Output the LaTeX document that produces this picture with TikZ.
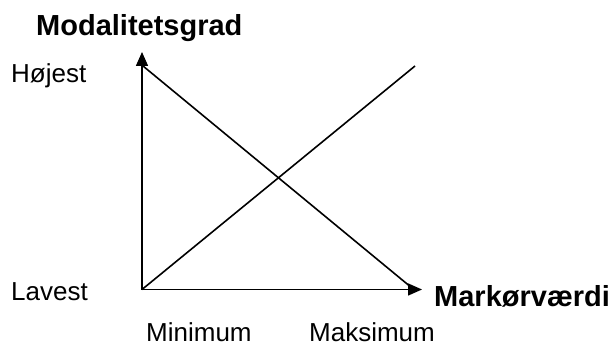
\documentclass[tikz,border=0pt]{standalone}
\usepackage{fontspec}
\setmainfont{Liberation Sans}
\usetikzlibrary{arrows.meta}
\begin{document}
\begin{tikzpicture}[x=1pt,y=-1pt,
  axis/.style={line width=1.6pt,-{Triangle[length=14pt,width=12pt]}},
  curve/.style={line width=1.6pt},
  lbl/.style={anchor=base west,inner sep=0pt,font=\fontsize{26}{30}\selectfont},
  ttl/.style={anchor=base west,inner sep=0pt,font=\fontsize{29}{33}\selectfont\bfseries}]
\useasboundingbox (0,0) rectangle (614,345);
\coordinate (o) at (142,289.5);
\coordinate (ytop) at (142,52);
\coordinate (xend) at (422,289.5);
\coordinate (hi) at (143,66);
\coordinate (lo) at (412,288);
\coordinate (up) at (415,66);
\draw[axis] (o) -- (ytop);
\draw[axis] (o) -- (xend);
\draw[curve] (hi) -- (lo);
\draw[curve] (o) -- (up);
\node[ttl] (ytitle) at (36,36) {Modalitetsgrad};
\node[ttl] (xtitle) at (434,306) {Markørværdi};
\node[lbl] (hojest) at (11,83) {Højest};
\node[lbl] (lavest) at (11,300) {Lavest};
\node[lbl] (minimum) at (146,341) {Minimum};
\node[lbl] (maksimum) at (309,341) {Maksimum};
\end{tikzpicture}
\end{document}
